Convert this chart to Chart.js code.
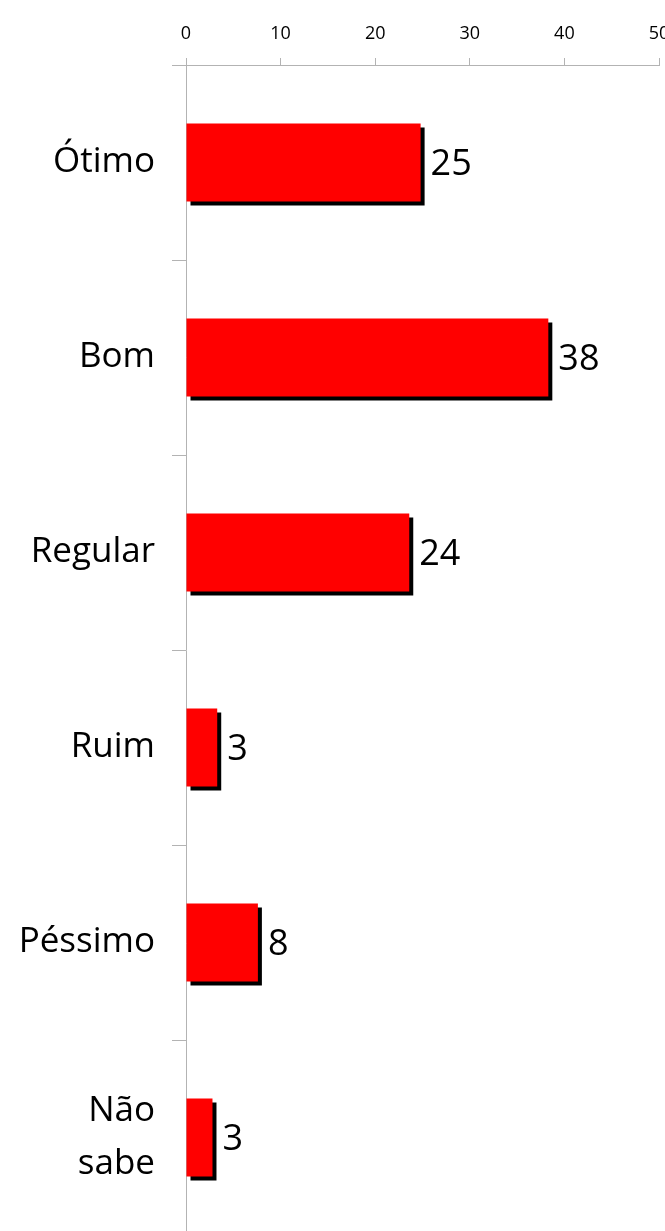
<!DOCTYPE html>
<html>
<head>
<meta charset="utf-8">
<script src="https://cdn.jsdelivr.net/npm/chart.js@4/dist/chart.umd.min.js"></script>
<style>
  html, body { margin: 0; padding: 0; background: #fff; overflow: hidden; }
  #wrap { width: 665px; height: 1235px; position: relative; }
</style>
</head>
<body>
<div id="wrap"><canvas id="grafico"></canvas></div>
<script>
const categorias = ['Ótimo', 'Bom', 'Regular', 'Ruim', 'Péssimo', ['Não', 'sabe']];
const valores = [24.8, 38.3, 23.6, 3.3, 7.6, 2.8];
const rotulos = ['25', '38', '24', '3', '8', '3'];
const ticksX = [0, 10, 20, 30, 40, 50];

const corEixo = '#b3b3b3';

// sombra preta deslocada atras das barras, como no Excel
const sombraPlugin = {
  id: 'sombra',
  beforeDatasetsDraw(chart) {
    const ctx = chart.ctx;
    ctx.save();
    ctx.shadowColor = '#000000';
    ctx.shadowBlur = 0;
    ctx.shadowOffsetX = 4;
    ctx.shadowOffsetY = 4;
  },
  afterDatasetsDraw(chart) {
    const ctx = chart.ctx;
    ctx.restore();
    const meta = chart.getDatasetMeta(0);
    ctx.save();
    ctx.fillStyle = '#000';
    ctx.font = '36px "Open Sans"';
    ctx.textAlign = 'left';
    ctx.textBaseline = 'middle';
    meta.data.forEach((bar, i) => {
      ctx.fillText(rotulos[i], bar.x + 10, bar.y + 2);
    });
    ctx.restore();
  }
};

const ctx = document.getElementById('grafico').getContext('2d');
const grafico = new Chart(ctx, {
  type: 'bar',
  data: {
    labels: categorias,
    datasets: [{
      data: valores,
      backgroundColor: '#ff0000',
      borderWidth: 0,
      barPercentage: 0.4,
      categoryPercentage: 1
    }]
  },
  options: {
    indexAxis: 'y',
    responsive: true,
    maintainAspectRatio: false,
    animation: false,
    layout: { padding: { top: 0, left: 0, bottom: 0, right: 6 } },
    plugins: {
      legend: { display: false },
      tooltip: { enabled: false }
    },
    scales: {
      x: {
        position: 'top',
        min: 0,
        max: 50,
        afterBuildTicks(scale) {
          scale.ticks = ticksX.map(v => ({ value: v }));
        },
        afterFit(scale) {
          scale.height = 65;
          scale.paddingRight = 0;
          scale.paddingLeft = 0;
        },
        grid: {
          drawOnChartArea: false,
          drawTicks: true,
          tickLength: 7,
          color: corEixo
        },
        border: { color: corEixo, width: 1 },
        ticks: {
          color: '#000',
          font: { family: 'Open Sans', size: 18 },
          padding: 13,
          maxRotation: 0
        }
      },
      y: {
        afterFit(scale) {
          scale.width = 186;
          scale.paddingTop = 0;
          scale.paddingBottom = 0;
        },
        grid: {
          drawOnChartArea: false,
          drawTicks: true,
          tickLength: 14,
          color: corEixo,
          offset: true
        },
        border: { color: corEixo, width: 1 },
        ticks: {
          color: '#000',
          font: { family: 'Open Sans', size: 35, lineHeight: 1.5 },
          padding: 17
        }
      }
    }
  },
  plugins: [sombraPlugin]
});
</script>
</body>
</html>
